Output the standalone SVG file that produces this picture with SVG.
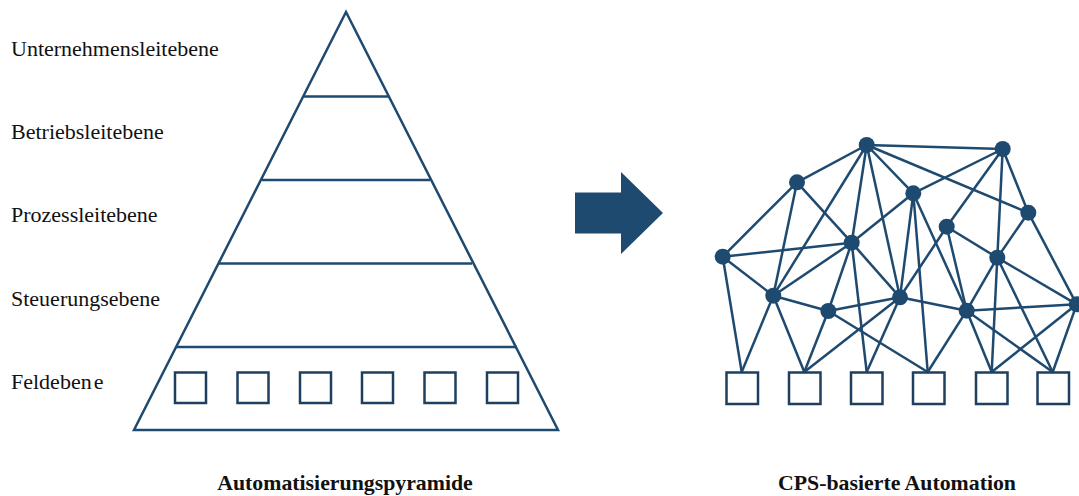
<svg xmlns="http://www.w3.org/2000/svg" width="1079" height="496" viewBox="0 0 1079 496">
  <style>
    .ln { stroke: #1f4a70; stroke-width: 2.5; fill: none; }
    .box { stroke: #1f3f5e; stroke-width: 2.5; fill: #ffffff; }
    .dot { fill: #1f4a70; }
    .lbl { font-family: "Liberation Serif", "Times New Roman", serif; font-size: 22px; fill: #111; }
    .ttl { font-family: "Liberation Serif", "Times New Roman", serif; font-size: 21.8px; font-weight: bold; fill: #111; }
  </style>

  <!-- level labels -->
  <g id="labels">
    <text class="lbl" x="11" y="56">Unternehmensleitebene</text>
    <text class="lbl" x="11" y="139">Betriebsleitebene</text>
    <text class="lbl" x="11" y="222">Prozessleitebene</text>
    <text class="lbl" x="11" y="306">Steuerungsebene</text>
    <text class="lbl" x="11" y="389">Feldeben<tspan dx="2">e</tspan></text>
  </g>

  <!-- pyramid -->
  <g id="pyramid">
    <polygon class="ln" points="346,12 134,430 558,430"/>
    <line class="ln" x1="304" y1="96.5" x2="388" y2="96.5"/>
    <line class="ln" x1="262" y1="180" x2="430" y2="180"/>
    <line class="ln" x1="219" y1="263.5" x2="472" y2="263.5"/>
    <line class="ln" x1="176" y1="347" x2="517" y2="347"/>
  </g>
  <g id="pyramid-field">
    <rect class="box" x="175" y="372.5" width="31" height="30.5"/>
    <rect class="box" x="237.5" y="372.5" width="31" height="30.5"/>
    <rect class="box" x="300" y="372.5" width="31" height="30.5"/>
    <rect class="box" x="362" y="372.5" width="31" height="30.5"/>
    <rect class="box" x="424.5" y="372.5" width="31" height="30.5"/>
    <rect class="box" x="487" y="372.5" width="31" height="30.5"/>
  </g>

  <!-- transition arrow -->
  <g id="arrow">
    <polygon fill="#1f4a70" points="575,192.5 621,192.5 621,172 663,213 621,254 621,233.5 575,233.5"/>
  </g>

  <!-- network links -->
  <g id="connectors" class="ln">
    <!-- A -->
    <line x1="866.7" y1="145" x2="1002.7" y2="149"/>
    <line x1="866.7" y1="145" x2="797" y2="182.3"/>
    <line x1="866.7" y1="145" x2="773.3" y2="295.7"/>
    <line x1="866.7" y1="145" x2="851.7" y2="242.7"/>
    <line x1="866.7" y1="145" x2="900" y2="297.3"/>
    <line x1="866.7" y1="145" x2="913.3" y2="193.3"/>
    <line x1="866.7" y1="145" x2="1028.3" y2="212.7"/>
    <!-- B -->
    <line x1="1002.7" y1="149" x2="913.3" y2="193.3"/>
    <line x1="1002.7" y1="149" x2="946.7" y2="226.7"/>
    <line x1="1002.7" y1="149" x2="997.3" y2="257.7"/>
    <line x1="1002.7" y1="149" x2="1028.3" y2="212.7"/>
    <!-- C -->
    <line x1="797" y1="182.3" x2="722.7" y2="256.7"/>
    <line x1="797" y1="182.3" x2="773.3" y2="295.7"/>
    <line x1="797" y1="182.3" x2="851.7" y2="242.7"/>
    <!-- D -->
    <line x1="913.3" y1="193.3" x2="851.7" y2="242.7"/>
    <line x1="913.3" y1="193.3" x2="900" y2="297.3"/>
    <line x1="913.3" y1="193.3" x2="927.7" y2="372"/>
    <line x1="913.3" y1="193.3" x2="966.7" y2="310.7"/>
    <!-- E -->
    <line x1="1028.3" y1="212.7" x2="997.3" y2="257.7"/>
    <line x1="1028.3" y1="212.7" x2="1076.7" y2="304.3"/>
    <!-- F -->
    <line x1="946.7" y1="226.7" x2="900" y2="297.3"/>
    <line x1="946.7" y1="226.7" x2="997.3" y2="257.7"/>
    <line x1="946.7" y1="226.7" x2="966.7" y2="310.7"/>
    <!-- G -->
    <line x1="851.7" y1="242.7" x2="722.7" y2="256.7"/>
    <line x1="851.7" y1="242.7" x2="773.3" y2="295.7"/>
    <line x1="851.7" y1="242.7" x2="828.3" y2="311"/>
    <line x1="851.7" y1="242.7" x2="900" y2="297.3"/>
    <line x1="851.7" y1="242.7" x2="866.7" y2="372"/>
    <!-- H -->
    <line x1="722.7" y1="256.7" x2="773.3" y2="295.7"/>
    <line x1="722.7" y1="256.7" x2="741.7" y2="372"/>
    <!-- I -->
    <line x1="997.3" y1="257.7" x2="966.7" y2="310.7"/>
    <line x1="997.3" y1="257.7" x2="991.7" y2="372"/>
    <line x1="997.3" y1="257.7" x2="1052.7" y2="372"/>
    <line x1="997.3" y1="257.7" x2="1076.7" y2="304.3"/>
    <!-- J -->
    <line x1="773.3" y1="295.7" x2="828.3" y2="311"/>
    <line x1="773.3" y1="295.7" x2="741.7" y2="372"/>
    <line x1="773.3" y1="295.7" x2="804.3" y2="372"/>
    <!-- K -->
    <line x1="900" y1="297.3" x2="828.3" y2="311"/>
    <line x1="900" y1="297.3" x2="966.7" y2="310.7"/>
    <line x1="900" y1="297.3" x2="804.3" y2="372"/>
    <line x1="900" y1="297.3" x2="866.7" y2="372"/>
    <!-- L -->
    <line x1="828.3" y1="311" x2="804.3" y2="372"/>
    <line x1="828.3" y1="311" x2="927.7" y2="372"/>
    <!-- M -->
    <line x1="966.7" y1="310.7" x2="1076.7" y2="304.3"/>
    <line x1="966.7" y1="310.7" x2="927.7" y2="372"/>
    <line x1="966.7" y1="310.7" x2="991.7" y2="372"/>
    <line x1="966.7" y1="310.7" x2="1052.7" y2="372"/>
    <!-- N -->
    <line x1="1076.7" y1="304.3" x2="991.7" y2="372"/>
    <line x1="1076.7" y1="304.3" x2="1052.7" y2="372"/>
  </g>

  <!-- network nodes -->
  <g id="nodes">
    <circle id="n-a" class="dot" cx="866.7" cy="145" r="8"/>
    <circle id="n-b" class="dot" cx="1002.7" cy="149" r="8"/>
    <circle id="n-c" class="dot" cx="797" cy="182.3" r="8"/>
    <circle id="n-d" class="dot" cx="913.3" cy="193.3" r="8"/>
    <circle id="n-e" class="dot" cx="1028.3" cy="212.7" r="8"/>
    <circle id="n-f" class="dot" cx="946.7" cy="226.7" r="8"/>
    <circle id="n-g" class="dot" cx="851.7" cy="242.7" r="8"/>
    <circle id="n-h" class="dot" cx="722.7" cy="256.7" r="8"/>
    <circle id="n-i" class="dot" cx="997.3" cy="257.7" r="8"/>
    <circle id="n-j" class="dot" cx="773.3" cy="295.7" r="8"/>
    <circle id="n-k" class="dot" cx="900" cy="297.3" r="8"/>
    <circle id="n-l" class="dot" cx="828.3" cy="311" r="8"/>
    <circle id="n-m" class="dot" cx="966.7" cy="310.7" r="8"/>
    <circle id="n-n" class="dot" cx="1076.7" cy="304.3" r="8"/>
  </g>

  <!-- field devices -->
  <g id="field-devices">
    <rect id="s1" class="box" x="726.5" y="372.5" width="31.5" height="31.5"/>
    <rect id="s2" class="box" x="789" y="372.5" width="31.5" height="31.5"/>
    <rect id="s3" class="box" x="851" y="372.5" width="31.5" height="31.5"/>
    <rect id="s4" class="box" x="913" y="372.5" width="31.5" height="31.5"/>
    <rect id="s5" class="box" x="976" y="372.5" width="31.5" height="31.5"/>
    <rect id="s6" class="box" x="1037.5" y="372.5" width="31.5" height="31.5"/>
  </g>

  <!-- captions -->
  <g id="captions">
    <text class="ttl" x="345" y="490" text-anchor="middle">Automatisierungspyramide</text>
    <text class="ttl" x="897" y="490" text-anchor="middle">CPS-basierte Automation</text>
  </g>
</svg>
